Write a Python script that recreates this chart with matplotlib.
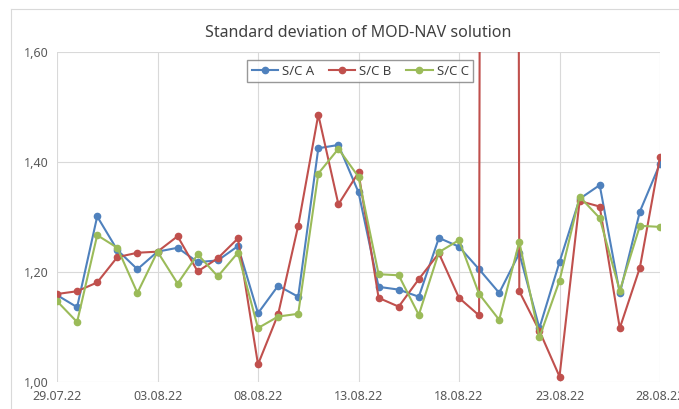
import pandas as pd
import matplotlib.pyplot as plt
import matplotlib.dates as mdates
from matplotlib.ticker import FuncFormatter

# === data ===
dates = pd.date_range("2022-07-29", "2022-08-28", freq="D")

sc_a = [1.158, 1.136, 1.301, 1.240, 1.205, 1.237, 1.244, 1.218, 1.221, 1.247,
        1.125, 1.175, 1.155, 1.425, 1.431, 1.345, 1.173, 1.168, 1.155, 1.262,
        1.246, 1.205, 1.162, 1.234, 1.098, 1.218, 1.333, 1.358, 1.161, 1.310,
        1.397]
sc_b = [1.160, 1.165, 1.181, 1.227, 1.235, 1.237, 1.265, 1.201, 1.225, 1.261,
        1.032, 1.123, 1.284, 1.486, 1.323, 1.381, 1.153, 1.137, 1.187, 1.234,
        1.153, 1.121, 20.0, 1.165, 1.093, 1.010, 1.329, 1.319, 1.098, 1.208,
        1.409]
sc_c = [1.147, 1.109, 1.267, 1.244, 1.162, 1.237, 1.179, 1.232, 1.192, 1.235,
        1.098, 1.119, 1.124, 1.379, 1.424, 1.373, 1.196, 1.194, 1.122, 1.236,
        1.258, 1.160, 1.113, 1.255, 1.081, 1.184, 1.337, 1.298, 1.166, 1.284,
        1.282]

series = {"S/C A": (sc_a, "#4F81BD"),
          "S/C B": (sc_b, "#C0504D"),
          "S/C C": (sc_c, "#9BBB59")}

plt.rcParams["font.family"] = ["Noto Sans", "DejaVu Sans"]

fig = plt.figure(figsize=(6.79, 4.09), dpi=100)
ax = fig.add_axes([57 / 679, 1 - 382 / 409, 603 / 679, 330 / 409])

for name, (vals, col) in series.items():
    ax.plot(dates, vals, color=col, lw=1.5, marker="o", ms=4.5, label=name)

ax.set_ylim(1.0, 1.6)
ax.set_xlim(dates[0], dates[-1])
ax.set_yticks([1.0, 1.2, 1.4, 1.6])
ax.yaxis.set_major_formatter(FuncFormatter(lambda v, p: f"{v:.2f}".replace(".", ",")))
ax.set_xticks(dates[::5])
ax.xaxis.set_major_formatter(mdates.DateFormatter("%d.%m.%y"))
ax.tick_params(length=0, labelsize=9, colors="#595959", pad=6)
ax.grid(True, color="#D9D9D9", lw=0.8)
for s in ax.spines.values():
    s.set_visible(False)

ax.set_title("Standard deviation of MOD-NAV solution", fontsize=11.5,
             color="#404040", pad=11)

leg = ax.legend(loc="center", bbox_to_anchor=(0.503, 0.942), ncol=3,
                fontsize=9.5, fancybox=False, handlelength=2.0,
                columnspacing=1.1, borderpad=0.35, handletextpad=0.3)
leg.get_frame().set_edgecolor("#7F7F7F")
leg.get_frame().set_linewidth(1.0)
for t in leg.get_texts():
    t.set_color("#404040")

# outer chart border (left and top edges visible)
fig.add_artist(plt.Line2D([11 / 679, 11 / 679], [0, 1 - 9 / 409],
                          transform=fig.transFigure, color="#D9D9D9", lw=0.8))
fig.add_artist(plt.Line2D([11 / 679, 1], [1 - 9 / 409, 1 - 9 / 409],
                          transform=fig.transFigure, color="#D9D9D9", lw=0.8))

plt.savefig("out.png", dpi=100)
plt.close()
